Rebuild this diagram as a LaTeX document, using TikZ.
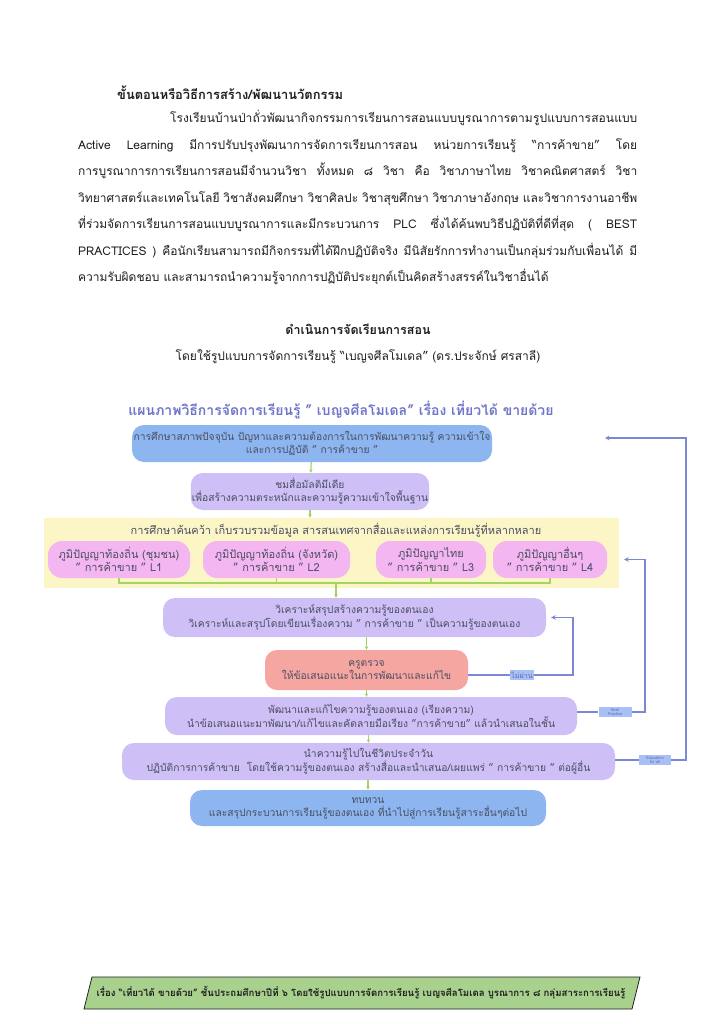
\documentclass[tikz,border=0pt]{standalone}
\usepackage{fontspec}
\setmainfont[Script=Thai]{Loma}
\usetikzlibrary{arrows.meta,positioning}
\definecolor{ink}{HTML}{1E1E1E}
\definecolor{boxink}{HTML}{4A4E62}
\definecolor{titleblue}{HTML}{6F75C8}
\definecolor{skyfill}{HTML}{8DB6F0}
\definecolor{lavfill}{HTML}{CEC0F6}
\definecolor{pinkfill}{HTML}{F3B6F1}
\definecolor{salfill}{HTML}{F5A6A1}
\definecolor{lemon}{HTML}{FCF6C6}
\definecolor{leaf}{HTML}{A3D468}
\definecolor{loopblue}{HTML}{7C88D4}
\definecolor{tagfill}{HTML}{A8C0F4}
\definecolor{tagink}{HTML}{5D6BB8}
\definecolor{footfill}{HTML}{A9D18E}

\begin{document}
\begin{tikzpicture}[x=1pt,y=-1pt,
    txt/.style={inner sep=0pt, text=ink, font=\fontsize{12}{14}\selectfont},
    hd/.style={inner sep=0pt, text=ink, font=\fontsize{12.5}{14}\selectfont\bfseries},
    b/.style={rounded corners=12pt, inner sep=1pt, align=center, text=boxink,
              font=\fontsize{10.3}{13}\selectfont},
    sky/.style={b, fill=skyfill},
    lav/.style={b, fill=lavfill},
    lw/.style={b, fill=pinkfill, rounded corners=14pt, minimum height=37pt,
               font=\fontsize{11}{13.5}\selectfont},
    sal/.style={b, fill=salfill},
    tag/.style={fill=tagfill, text=tagink, inner sep=1.5pt, align=center},
    g/.style={-{Stealth[length=3.5pt,width=3.5pt]}, leaf, line width=1.2pt},
    gl/.style={leaf, line width=1.2pt},
    c/.style={-{Stealth[length=4.5pt,width=4.5pt]}, loopblue, line width=1.3pt,
              shorten >=5pt},
    cl/.style={loopblue, line width=1.3pt}]
  \fill[white] (0,0) rectangle (723,1024);
  \useasboundingbox (0,0) rectangle (723,1024);

  % text above the chart
  \node[hd, font=\fontsize{12.9}{14}\selectfont\bfseries, anchor=base west] (head) at (117,100)
    {ขั้นตอนหรือวิธีการสร้าง/พัฒนานวัตกรรม};
  \node[txt, anchor=base west] (p1) at (170,123)
    {\makebox[467pt]{โรง\hfill เรียน\hfill บ้าน\hfill ป่า\hfill ถั่ว\hfill พัฒ\hfill นา\hfill กิจ\hfill กรรม\hfill การ\hfill เรียน\hfill การ\hfill สอน\hfill แบบ\hfill บู\hfill รณา\hfill การ\hfill ตาม\hfill รูป\hfill แบบ\hfill การ\hfill สอน\hfill แบบ}};
  \node[txt, anchor=base west] (p2) at (78,150)
    {\makebox[559pt][s]{Active Learning มีการปรับปรุงพัฒนาการจัดการเรียนการสอน หน่วยการเรียนรู้ “การค้าขาย” โดย}};
  \node[txt, anchor=base west] (p3) at (78,176)
    {\makebox[559pt][s]{การบูรณาการการเรียนการสอนมีจำนวนวิชา ทั้งหมด ๘ วิชา คือ วิชาภาษาไทย วิชาคณิตศาสตร์ วิชา}};
  \node[txt, anchor=base west] (p4) at (78,203)
    {\makebox[559pt][s]{วิทยาศาสตร์และเทคโนโลยี วิชาสังคมศึกษา วิชาศิลปะ วิชาสุขศึกษา วิชาภาษาอังกฤษ และวิชาการงานอาชีพ}};
  \node[txt, anchor=base west] (p5) at (78,229)
    {\makebox[559pt][s]{ที่ร่วมจัดการเรียนการสอนแบบบูรณาการและมีกระบวนการ PLC ซึ่งได้ค้นพบวิธีปฏิบัติที่ดีที่สุด ( BEST}};
  \node[txt, anchor=base west] (p6) at (78,255)
    {\makebox[559pt][s]{PRACTICES ) คือนักเรียนสามารถมีกิจกรรมที่ได้ฝึกปฏิบัติจริง มีนิสัยรักการทำงานเป็นกลุ่มร่วมกับเพื่อนได้ มี}};
  \node[txt, anchor=base west] (p7) at (78,281)
    {ความรับผิดชอบ และสามารถนำความรู้จากการปฏิบัติประยุกต์เป็นคิดสร้างสรรค์ในวิชาอื่นได้};
  \node[hd, anchor=base] (sect) at (358,334) {ดำเนินการจัดเรียนการสอน};
  \node[txt, anchor=base] (model) at (358,360)
    {โดยใช้รูปแบบการจัดการเรียนรู้ “เบญจศีลโมเดล” (ดร.ประจักษ์ ศรสาลี)};

  % chart
  \node[inner sep=0pt, text=titleblue, font=\fontsize{14}{16}\selectfont\bfseries, anchor=base]
    (ctitle) at (341,415) {แผนภาพวิธีการจัดการเรียนรู้ " เบญจศีลโมเดล" เรื่อง เที่ยวได้ ขายด้วย};
  \node[sky, minimum width=360pt, minimum height=37pt] (s1) at (312,443.5)
    {การศึกษาสภาพปัจจุบัน ปัญหาและความต้องการในการพัฒนาความรู้ ความเข้าใจ\\และการปฏิบัติ " การค้าขาย "};
  \node[lav, minimum width=237pt, minimum height=37pt] (s2) at (310,491.5)
    {ชมสื่อมัลติมีเดีย\\เพื่อสร้างความตระหนักและความรู้ความเข้าใจพื้นฐาน};
  \node[fill=lemon, inner sep=0pt, minimum width=575pt, minimum height=70pt] (yel) at (331.5,553) {};
  \node[b, font=\fontsize{11}{13}\selectfont, anchor=base] (yhead) at (336,534)
    {การศึกษาค้นคว้า เก็บรวบรวมข้อมูล สารสนเทศจากสื่อและแหล่งการเรียนรู้ที่หลากหลาย};
  \node[lw, minimum width=142pt] (l1) at (119,559.5) {ภูมิปัญญาท้องถิ่น (ชุมชน)\\" การค้าขาย " L1};
  \node[lw, minimum width=147pt] (l2) at (276.5,559.5) {ภูมิปัญญาท้องถิ่น (จังหวัด)\\" การค้าขาย " L2};
  \node[lw, minimum width=110pt] (l3) at (431,559.5) {ภูมิปัญญาไทย\\" การค้าขาย " L3};
  \node[lw, minimum width=114pt] (l4) at (550,559.5) {ภูมิปัญญาอื่นๆ\\" การค้าขาย " L4};
  \node[lav, minimum width=383pt, minimum height=39pt] (ana) at (354.5,617.5)
    {วิเคราะห์สรุปสร้างความรู้ของตนเอง\\วิเคราะห์และสรุปโดยเขียนเรื่องความ " การค้าขาย " เป็นความรู้ของตนเอง};
  \node[sal, minimum width=203pt, minimum height=40pt] (kru) at (366.5,670)
    {ครูตรวจ\\ให้ข้อเสนอแนะในการพัฒนาและแก้ไข};
  \node[lav, minimum width=412pt, minimum height=38pt] (dev) at (371,716)
    {พัฒนาและแก้ไขความรู้ของตนเอง (เรียงความ)\\นำข้อเสนอแนะมาพัฒนา/แก้ไขและคัดลายมือเรียง "การค้าขาย" แล้วนำเสนอในชั้น};
  \node[lav, minimum width=493pt, minimum height=37pt] (use) at (368.5,761.5)
    {นำความรู้ไปในชีวิตประจำวัน\\ปฏิบัติการการค้าขาย\ \ โดยใช้ความรู้ของตนเอง สร้างสื่อและนำเสนอ/เผยแพร่ " การค้าขาย " ต่อผู้อื่น};
  \node[sky, minimum width=356pt, minimum height=36pt] (rev) at (368,808)
    {ทบทวน\\และสรุปกระบวนการเรียนรู้ของตนเอง ที่นำไปสู่การเรียนรู้สาระอื่นๆต่อไป};

  \node[tag, font=\fontsize{7.2}{8}\selectfont] (nopass) at (522,675) {ไม่ผ่าน};
  \node[tag, font=\fontsize{4}{4.6}\selectfont, minimum width=33pt] (bp) at (615,712) {Best\\Practice};
  \node[tag, font=\fontsize{4}{4.6}\selectfont, minimum width=32pt] (efa) at (655,760) {Education\\for all};
  \coordinate (r1) at (573,0);
  \coordinate (r2) at (645,0);
  \coordinate (r3) at (686,0);
  \coordinate (tipin) at (600,438);
  \coordinate (gbar) at (336,583);

  % green flow
  \draw[g] (s1) -- (s2);
  \draw[g] (s2.south) -- (s2.south |- yel.north);
  \draw[gl] (l1.south) -- (l1.south |- gbar) -- (l4.south |- gbar) -- (l4.south);
  \draw[gl] (l2.south) -- (l2.south |- gbar);
  \draw[gl] (l3.south) -- (l3.south |- gbar);
  \draw[g] (gbar) -- (gbar |- ana.north);
  \draw[g] (kru.north |- ana.south) -- (kru.north);
  \draw[g] (kru.south) -- (kru.south |- dev.north);
  \draw[g] (use.north |- dev.south) -- (use.north);
  \draw[g] (rev.north |- use.south) -- (rev.north);

  % feedback loops
  \draw[cl] (kru.east |- nopass) -- (nopass);
  \draw[c] (nopass) -- (nopass -| r1) -- (ana.east -| r1) -- (ana.east);
  \draw[cl] (dev.east |- bp) -- (bp);
  \draw[c] (bp) -- (bp -| r2) -- (l4.east -| r2) -- (yel.east |- l4.east);
  \draw[cl] (use.east |- efa) -- (efa);
  \draw[c] (efa) -- (efa -| r3) -- (tipin -| r3) -- (tipin);

  % footer
  \draw[fill=footfill, draw=ink, line width=0.8pt] (92,977) -- (640,977) -- (632,1009) -- (84,1009) -- cycle;
  \node[inner sep=0pt, text=ink, font=\fontsize{9.6}{11}\selectfont\bfseries] (foot) at (361,993)
    {เรื่อง “เที่ยวได้ ขายด้วย” ชั้นประถมศึกษาปีที่ ๖ โดยใช้รูปแบบการจัดการเรียนรู้ เบญจศีลโมเดล บูรณาการ ๘ กลุ่มสาระการเรียนรู้};
\end{tikzpicture}
\end{document}
